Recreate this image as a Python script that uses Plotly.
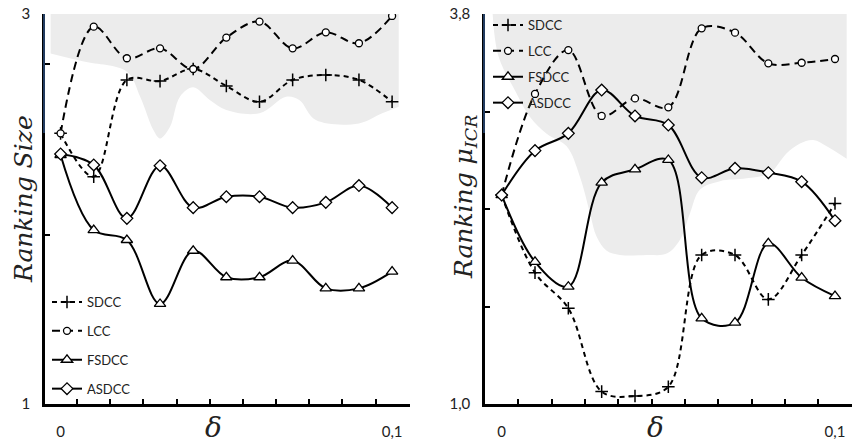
import plotly.graph_objects as go

W, H = 852, 445

# ---------------- data ----------------
delta = [0.0, 0.01, 0.02, 0.03, 0.04, 0.05, 0.06, 0.07, 0.08, 0.09, 0.10]
series_names = ["SDCC", "LCC", "FSDCC", "ASDCC"]

# Left panel: Ranking Size
size_sdcc = [2.388, 2.166, 2.662, 2.656, 2.718, 2.631, 2.550, 2.662, 2.687, 2.662, 2.550]
size_lcc = [2.388, 2.935, 2.773, 2.824, 2.718, 2.879, 2.961, 2.824, 2.906, 2.850, 2.990]
size_fsdcc = [2.277, 1.892, 1.841, 1.513, 1.786, 1.650, 1.650, 1.735, 1.593, 1.593, 1.679]
size_asdcc = [2.282, 2.226, 1.952, 2.222, 2.007, 2.063, 2.063, 2.007, 2.034, 2.120, 2.007]

# Right panel: Ranking mu_ICR
icr_sdcc = [2.50, 1.943, 1.687, 1.089, 1.057, 1.124, 2.07, 2.07, 1.751, 2.07, 2.44]
icr_lcc = [2.50, 3.226, 3.541, 3.068, 3.194, 3.130, 3.697, 3.666, 3.446, 3.450, 3.477]
icr_fsdcc = [2.50, 2.021, 1.842, 2.589, 2.685, 2.752, 1.615, 1.584, 2.153, 1.907, 1.775]
icr_asdcc = [2.50, 2.819, 2.943, 3.254, 3.068, 3.003, 2.625, 2.692, 2.661, 2.596, 2.316]

# Shaded background bands (upper edge = axis max, lower edge below)
band_left_x = [-0.003, 0.007, 0.020, 0.024, 0.028, 0.030, 0.033, 0.036, 0.040, 0.045,
               0.050, 0.060, 0.068, 0.072, 0.077, 0.090, 0.097, 0.102]
band_left_low = [2.798, 2.756, 2.704, 2.576, 2.405, 2.362, 2.422, 2.576, 2.624, 2.559,
                 2.508, 2.491, 2.576, 2.559, 2.456, 2.439, 2.491, 2.525]
band_right_x = [-0.0027, -0.001, 0.004, 0.0085, 0.0135, 0.0195, 0.0235, 0.0265, 0.0285,
                0.0315, 0.0355, 0.0435, 0.0495, 0.0535, 0.0565, 0.0595, 0.0655, 0.0735,
                0.0805, 0.0855, 0.0895, 0.0935, 0.0975, 0.1035]
band_right_low = [3.8, 3.5, 3.25, 3.06, 2.94, 2.85, 2.63, 2.37, 2.2, 2.1, 2.07, 2.07,
                  2.08, 2.18, 2.37, 2.54, 2.6, 2.62, 2.66, 2.8, 2.87, 2.895, 2.85, 2.76]

left_ylabels = {"vals": [1, 3], "text": ["1", "3"], "minor": [1.867, 2.744]}
right_ylabels = {"vals": [1.0, 3.8], "text": ["1,0", "3,8"], "minor": [1.7, 2.4, 3.1]}
x_labels = {"vals": [0.0, 0.1], "text": ["0", "0,1"],
            "minor": [0.005, 0.015, 0.025, 0.035, 0.045, 0.055, 0.065, 0.075, 0.085, 0.095]}

# ---------------- styles ----------------
styles = {
    "SDCC": dict(dash="5px,4px", symbol="cross-thin-open", size=9, lw=2),
    "LCC": dict(dash="8px,5px", symbol="circle", size=7, lw=2),
    "FSDCC": dict(dash="solid", symbol="triangle-up", size=10, lw=2),
    "ASDCC": dict(dash="solid", symbol="diamond", size=9, lw=2),
}

fig = go.Figure()


def add_band(xs, low, top, xa, ya):
    fig.add_trace(go.Scatter(x=xs, y=[top] * len(xs), mode="lines", line=dict(width=0),
                             showlegend=False, hoverinfo="skip", xaxis=xa, yaxis=ya))
    fig.add_trace(go.Scatter(x=xs, y=low, mode="lines", line=dict(width=0, shape="spline"),
                             fill="tonexty", fillcolor="#ececec", showlegend=False,
                             hoverinfo="skip", xaxis=xa, yaxis=ya))


add_band(band_left_x, band_left_low, 3.0, "x", "y")
add_band(band_right_x, band_right_low, 3.8, "x2", "y2")


def add_series(values, name, xa, ya, legend, grp):
    s = styles[name]
    cross = s["symbol"].startswith("cross")
    fig.add_trace(go.Scatter(
        x=delta, y=values, name=name, mode="lines+markers",
        line=dict(color="black", width=s["lw"], dash=s["dash"], shape="spline"),
        marker=dict(symbol=s["symbol"], size=s["size"], color="white" if not cross else "black",
                    line=dict(color="black", width=1.3 if not cross else 1.5)),
        xaxis=xa, yaxis=ya, legend=legend, legendgroup=grp))


for nm, vals in zip(series_names, [size_sdcc, size_lcc, size_fsdcc, size_asdcc]):
    add_series(vals, nm, "x", "y", "legend", "L" + nm)
for nm, vals in zip(series_names, [icr_sdcc, icr_lcc, icr_fsdcc, icr_asdcc]):
    add_series(vals, nm, "x2", "y2", "legend2", "R" + nm)

tickfont = dict(family="Lato", size=15, color="#222")


def xaxis_cfg(domain, rng):
    return dict(domain=domain, range=rng, showgrid=False, zeroline=False,
                showline=True, linecolor="black", linewidth=2.5, automargin=False,
                tickmode="array", tickvals=x_labels["vals"], ticktext=x_labels["text"],
                ticks="", tickfont=tickfont, ticklabelstandoff=12,
                minor=dict(tickvals=x_labels["minor"], ticks="inside", ticklen=5,
                           tickwidth=1.5, tickcolor="black"))


def yaxis_cfg(anchor, rng, lab):
    return dict(anchor=anchor, domain=[1 - 404 / H, 1 - 14 / H], range=rng,
                showgrid=False, zeroline=False, showline=True, linecolor="black",
                linewidth=2.5, automargin=False, tickmode="array", tickvals=lab["vals"],
                ticktext=lab["text"],
                ticks="inside", ticklen=5, tickwidth=1.5, tickcolor="black",
                tickfont=tickfont, ticklabelstandoff=9,
                minor=dict(tickvals=lab["minor"], ticks="inside", ticklen=5,
                           tickwidth=1.5, tickcolor="black"))


legend_common = dict(xanchor="left", yanchor="top", bgcolor="rgba(0,0,0,0)",
                     font=dict(family="Lato", size=13, color="#222"), itemwidth=30)

fig.update_layout(
    width=W, height=H, margin=dict(l=0, r=0, t=0, b=0, pad=0, autoexpand=False),
    paper_bgcolor="white", plot_bgcolor="white",
    xaxis=xaxis_cfg([45 / W, 410 / W], [-0.0047, 0.1054]),
    yaxis=yaxis_cfg("x", [1, 3], left_ylabels),
    xaxis2=xaxis_cfg([485 / W, 1.0], [-0.005, 0.1051]),
    yaxis2=yaxis_cfg("x2", [1.0, 3.8], right_ylabels),
    legend=dict(x=47 / W, y=1 - 287 / H, tracegroupgap=9, **legend_common),
    legend2=dict(x=488 / W, y=1 - 10 / H, tracegroupgap=6, **legend_common),
    showlegend=True,
)

title_font = dict(family="DejaVu Serif", size=25, color="#222")
fig.add_annotation(text="<i>Ranking Size</i>", x=23 / W, y=1 - 199 / H, xref="paper", yref="paper",
                   textangle=-90, showarrow=False, font=title_font, xanchor="center", yanchor="middle")
fig.add_annotation(text="<i>Ranking μ<sub>ICR</sub></i>", x=465 / W, y=1 - 197 / H, xref="paper",
                   yref="paper", textangle=-90, showarrow=False, font=title_font,
                   xanchor="center", yanchor="middle")
delta_font = dict(family="DejaVu Serif", size=28, color="#222")
fig.add_annotation(text="<i>δ</i>", x=213 / W, y=1 - 427 / H, xref="paper", yref="paper",
                   showarrow=False, font=delta_font, xanchor="center", yanchor="middle")
fig.add_annotation(text="<i>δ</i>", x=655 / W, y=1 - 427 / H, xref="paper", yref="paper",
                   showarrow=False, font=delta_font, xanchor="center", yanchor="middle")

for xp in (44 / W, 484 / W):
    fig.add_shape(type="line", xref="paper", yref="paper", x0=xp, x1=xp,
                  y0=1 - 14 / H, y1=1 - 133 / H, line=dict(color="#3a64a0", width=1.2))

fig.write_html("out.html", config={"displayModeBar": False},
               post_script="document.body.style.margin='0';document.body.style.overflow='hidden';")
